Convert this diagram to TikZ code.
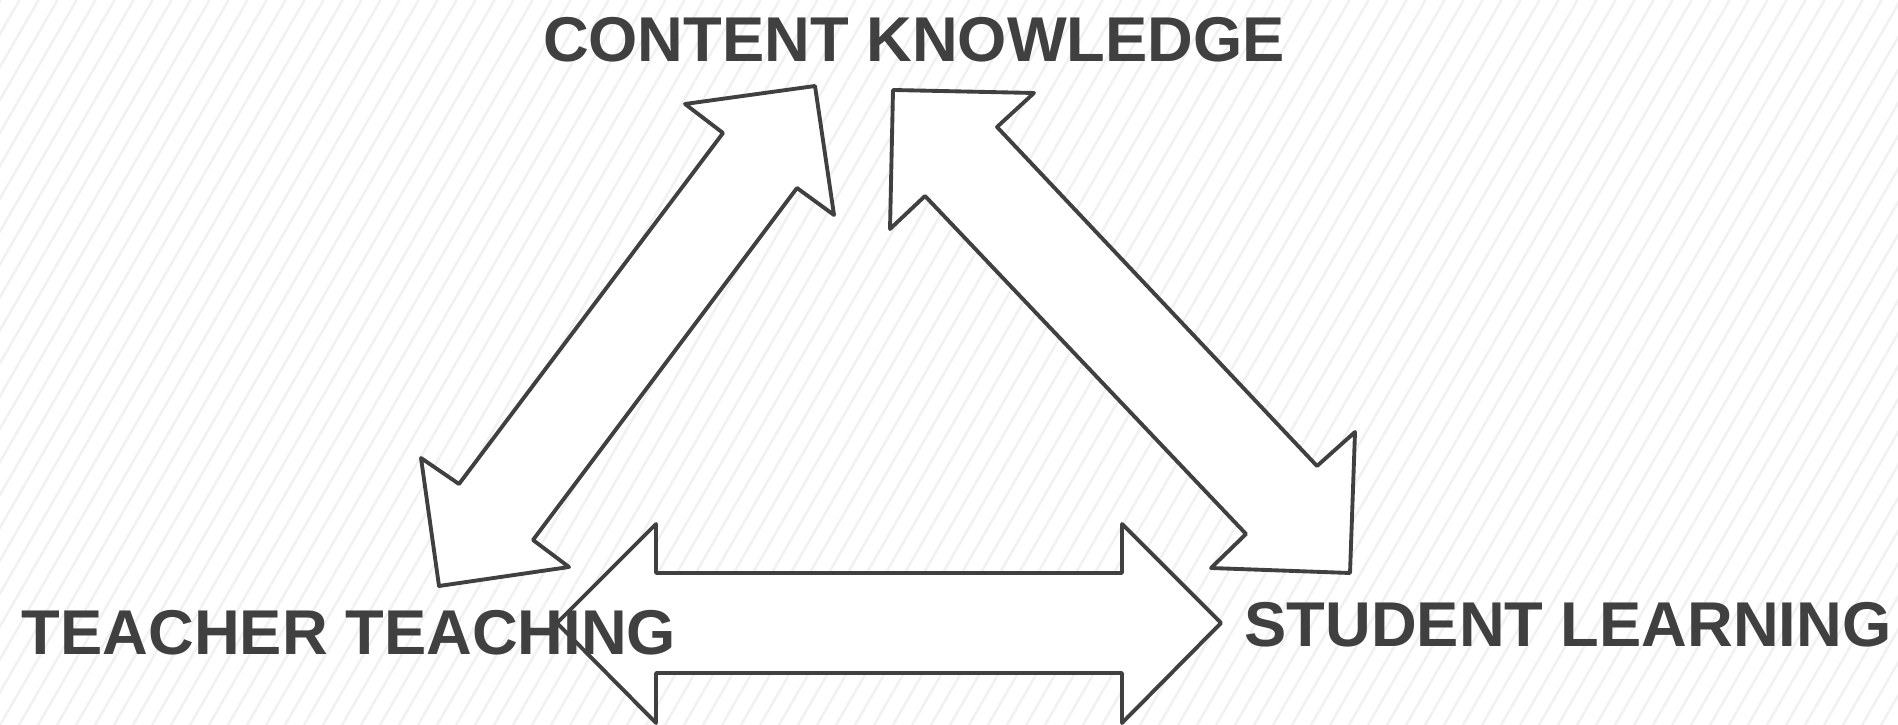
\documentclass[tikz,border=0pt]{standalone}
\usepackage{fontspec}
\setmainfont{Liberation Sans}
\usepackage{tikz}
\definecolor{ink}{HTML}{404040}
\definecolor{stripe}{HTML}{F1F1F1}

\begin{document}
\begin{tikzpicture}[x=0.01cm, y=-0.01cm,
    blockarrow/.style={draw=ink, fill=white, line width=1.1pt, line join=round},
    topic/.style={text=ink, inner sep=0pt, anchor=base, font=\fontsize{18}{20}\selectfont\bfseries}]
  \useasboundingbox (0,0) rectangle (1898,725);
  % background stripes
  \begin{scope}
    \clip (0,0) rectangle (1898,725);
    \fill[white] (0,0) rectangle (1898,725);
    \foreach \i in {-25,...,100}
      \draw[stripe, line width=0.7pt] (\i*19,725) -- ++(418.6,-725);
  \end{scope}

  % content knowledge <-> teacher teaching
  \draw[blockarrow] (685,104) -- (815,86) -- (834,215) -- (797,188) -- (533,540) -- (569,567)
                    -- (439,586) -- (421,458) -- (459,484) -- (723,133) -- cycle;
  % content knowledge <-> student learning
  \draw[blockarrow] (893,90) -- (1034,93) -- (997,127) -- (1317,466) -- (1355,432) -- (1350,573)
                    -- (1211,568) -- (1246,534) -- (925,196) -- (890,229) -- cycle;
  % teacher teaching <-> student learning
  \draw[blockarrow] (656,573) -- (1122,573) -- (1122,524) -- (1221,623) -- (1122,723) -- (1122,673)
                    -- (656,673) -- (656,723) -- (557,623) -- (656,524) -- cycle;

  \node[topic] (ck) at (914,62) {CONTENT KNOWLEDGE};
  \node[topic] (tt) at (349,654) {TEACHER TEACHING};
  \node[topic] (sl) at (1568,646) {STUDENT LEARNING};
\end{tikzpicture}
\end{document}
